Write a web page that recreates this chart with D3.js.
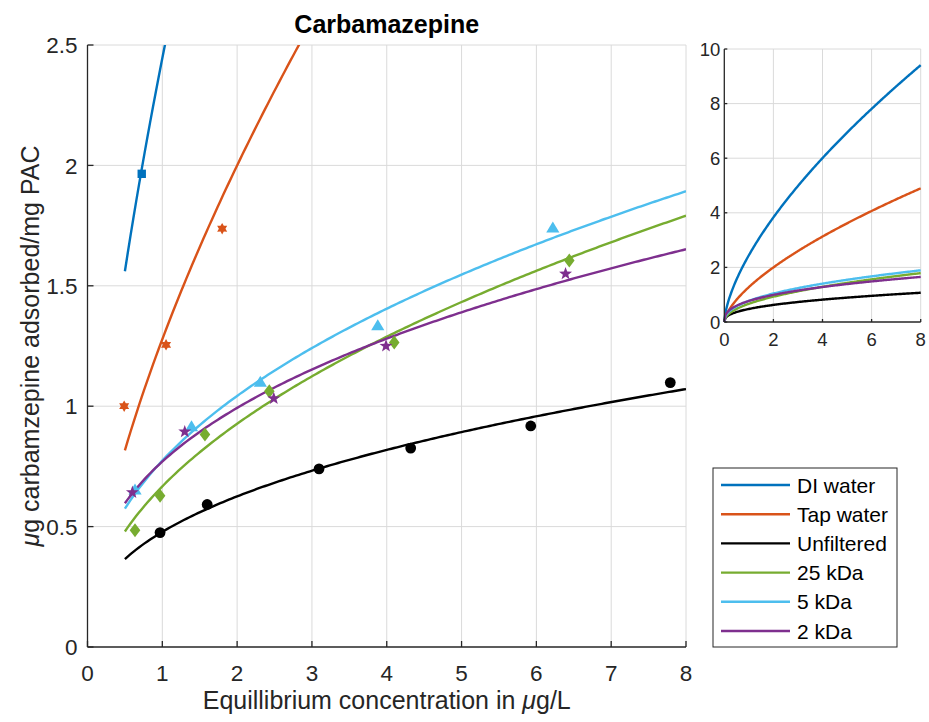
<!DOCTYPE html>
<html>
<head>
<meta charset="utf-8">
<script src="https://cdn.jsdelivr.net/npm/d3@7"></script>
<style>
  html, body { margin: 0; padding: 0; background: #fff; }
  svg { display: block; font-family: "Liberation Sans", Arial, sans-serif; }
</style>
</head>
<body>
<svg id="chart" width="929" height="722"></svg>
<script>
// Series names (legend order)
const seriesNames = ["DI water", "Tap water", "Unfiltered", "25 kDa", "5 kDa", "2 kDa"];

// Freundlich fit parameters q = K * C^n for each series
const fitK = [2.445, 1.278, 0.478, 0.667, 0.774, 0.770];
const fitN = [0.648, 0.646, 0.388, 0.475, 0.430, 0.367];

// Measured equilibrium concentrations (ug/L) and adsorbed amounts (ug/mg PAC)
const diC = [0.725];
const diQ = [1.965];
const tapC = [0.49, 1.05, 1.80];
const tapQ = [1.000, 1.255, 1.737];
const unfC = [0.97, 1.60, 3.095, 4.32, 5.925, 7.79];
const unfQ = [0.475, 0.592, 0.740, 0.826, 0.918, 1.098];
const k25C = [0.635, 0.97, 1.57, 2.43, 4.10, 6.44];
const k25Q = [0.485, 0.628, 0.882, 1.062, 1.265, 1.605];
const k5C = [0.635, 1.39, 2.31, 3.88, 6.22];
const k5Q = [0.652, 0.915, 1.100, 1.335, 1.740];
const k2C = [0.60, 1.30, 2.49, 3.99, 6.39];
const k2Q = [0.642, 0.894, 1.032, 1.250, 1.550];

// Axis ticks
const mainXTicks = [0, 1, 2, 3, 4, 5, 6, 7, 8];
const mainYTicks = [0, 0.5, 1, 1.5, 2, 2.5];
const insetXTicks = [0, 2, 4, 6, 8];
const insetYTicks = [0, 2, 4, 6, 8, 10];

// Fit curve ranges
const mainFitRange = [0.5, 8];
const insetFitRange = [0, 8];

const colors = ["#0072BD", "#D95319", "#000000", "#77AC30", "#4DBEEE", "#7E2F8E"];
const axisColor = "#262626";
const gridColor = "#dadada";

const pointSets = [
  [diC, diQ], [tapC, tapQ], [unfC, unfQ], [k25C, k25Q], [k5C, k5Q], [k2C, k2Q]
];

// Marker shapes
function starPath(points, rOuter, rInner) {
  let p = [];
  for (let i = 0; i < points * 2; i++) {
    const r = i % 2 === 0 ? rOuter : rInner;
    const a = -Math.PI / 2 + i * Math.PI / points;
    p.push([r * Math.cos(a), r * Math.sin(a)]);
  }
  return "M" + p.map(d => d[0].toFixed(2) + "," + d[1].toFixed(2)).join("L") + "Z";
}
const markerPaths = [
  "M-4.2,-4.2L4.2,-4.2L4.2,4.2L-4.2,4.2Z",          // square
  starPath(6, 5.8, 3.3),                              // hexagram
  d3.symbol(d3.symbolCircle, Math.PI * 5.4 * 5.4)(),  // circle
  "M0,-7L5.3,0L0,7L-5.3,0Z",                          // diamond
  "M0,-6.4L6.6,4.6L-6.6,4.6Z",                        // triangle
  starPath(5, 6.8, 2.8)                               // pentagram
];

const svg = d3.select("#chart");

function fitCurve(i, range) {
  const c0 = range[0], c1 = range[1];
  const steps = 200;
  return d3.range(steps + 1).map(j => {
    const c = c0 + (c1 - c0) * j / steps;
    return [c, fitK[i] * Math.pow(c, fitN[i])];
  });
}

// ---------- Main axes ----------
const M = { left: 87.5, right: 686, top: 45, bottom: 647 };
const x = d3.scaleLinear().domain([0, 8]).range([M.left, M.right]);
const y = d3.scaleLinear().domain([0, 2.5]).range([M.bottom, M.top]);

const main = svg.append("g");

// grid
main.append("g").selectAll("line").data(mainXTicks.slice(1)).join("line")
  .attr("x1", d => x(d)).attr("x2", d => x(d))
  .attr("y1", M.top).attr("y2", M.bottom)
  .attr("stroke", gridColor).attr("stroke-width", 1);
main.append("g").selectAll("line").data(mainYTicks.slice(1)).join("line")
  .attr("x1", M.left).attr("x2", M.right)
  .attr("y1", d => y(d)).attr("y2", d => y(d))
  .attr("stroke", gridColor).attr("stroke-width", 1);

svg.append("defs").append("clipPath").attr("id", "mainClip")
  .append("rect").attr("x", M.left).attr("y", M.top)
  .attr("width", M.right - M.left).attr("height", M.bottom - M.top);

const line = d3.line().x(d => x(d[0])).y(d => y(d[1]));
const plotG = main.append("g").attr("clip-path", "url(#mainClip)");
seriesNames.forEach((name, i) => {
  plotG.append("path")
    .attr("d", line(fitCurve(i, mainFitRange)))
    .attr("fill", "none").attr("stroke", colors[i]).attr("stroke-width", 2.4);
});
seriesNames.forEach((name, i) => {
  const [cs, qs] = pointSets[i];
  main.append("g").selectAll("path").data(cs.map((c, j) => [c, qs[j]])).join("path")
    .attr("d", markerPaths[i])
    .attr("transform", d => `translate(${x(d[0])},${y(d[1])})`)
    .attr("fill", colors[i]).attr("stroke", "none");
});

// axes lines
main.append("line").attr("x1", M.left).attr("x2", M.left).attr("y1", M.top).attr("y2", M.bottom)
  .attr("stroke", axisColor).attr("stroke-width", 1.3);
main.append("line").attr("x1", M.left).attr("x2", M.right).attr("y1", M.bottom).attr("y2", M.bottom)
  .attr("stroke", axisColor).attr("stroke-width", 1.3);
// ticks (inward)
main.append("g").selectAll("line").data(mainXTicks).join("line")
  .attr("x1", d => x(d)).attr("x2", d => x(d)).attr("y1", M.bottom).attr("y2", M.bottom - 6)
  .attr("stroke", axisColor).attr("stroke-width", 1.3);
main.append("g").selectAll("line").data(mainYTicks).join("line")
  .attr("x1", M.left).attr("x2", M.left + 6).attr("y1", d => y(d)).attr("y2", d => y(d))
  .attr("stroke", axisColor).attr("stroke-width", 1.3);
// tick labels
main.append("g").selectAll("text").data(mainXTicks).join("text")
  .attr("x", d => x(d)).attr("y", 681)
  .attr("text-anchor", "middle").attr("font-size", 22.5).attr("fill", axisColor)
  .text(d => d);
main.append("g").selectAll("text").data(mainYTicks).join("text")
  .attr("x", M.left - 10).attr("y", d => y(d))
  .attr("dy", "0.36em")
  .attr("text-anchor", "end").attr("font-size", 22.5).attr("fill", axisColor)
  .text(d => d);

// title
svg.append("text").attr("x", (M.left + M.right) / 2).attr("y", 33)
  .attr("text-anchor", "middle").attr("font-size", 25).attr("font-weight", "bold")
  .attr("fill", "#000").text("Carbamazepine");

// x label
const xl = svg.append("text").attr("x", (M.left + M.right) / 2).attr("y", 708.5)
  .attr("text-anchor", "middle").attr("font-size", 25).attr("fill", axisColor);
xl.append("tspan").text("Equillibrium concentration in ");
xl.append("tspan").attr("font-style", "italic").text("μ");
xl.append("tspan").text("g/L");

// y label
const yl = svg.append("text")
  .attr("transform", `translate(39,${(M.top + M.bottom) / 2}) rotate(-90)`)
  .attr("text-anchor", "middle").attr("font-size", 25).attr("fill", axisColor);
yl.append("tspan").attr("font-style", "italic").text("μ");
yl.append("tspan").text("g carbamzepine adsorbed/mg PAC");

// ---------- Inset axes ----------
const I = { left: 724.3, right: 920.7, top: 49, bottom: 322 };
const xi = d3.scaleLinear().domain([0, 8]).range([I.left, I.right]);
const yi = d3.scaleLinear().domain([0, 10]).range([I.bottom, I.top]);
const inset = svg.append("g");

inset.append("g").selectAll("line").data(insetXTicks.slice(1)).join("line")
  .attr("x1", d => xi(d)).attr("x2", d => xi(d)).attr("y1", I.top).attr("y2", I.bottom)
  .attr("stroke", gridColor).attr("stroke-width", 1);
inset.append("g").selectAll("line").data(insetYTicks.slice(1)).join("line")
  .attr("x1", I.left).attr("x2", I.right).attr("y1", d => yi(d)).attr("y2", d => yi(d))
  .attr("stroke", gridColor).attr("stroke-width", 1);

const lineI = d3.line().x(d => xi(d[0])).y(d => yi(d[1]));
seriesNames.forEach((name, i) => {
  inset.append("path")
    .attr("d", lineI(fitCurve(i, insetFitRange)))
    .attr("fill", "none").attr("stroke", colors[i]).attr("stroke-width", 2.4);
});

inset.append("line").attr("x1", I.left).attr("x2", I.left).attr("y1", I.top).attr("y2", I.bottom)
  .attr("stroke", axisColor).attr("stroke-width", 1.3);
inset.append("line").attr("x1", I.left).attr("x2", I.right).attr("y1", I.bottom).attr("y2", I.bottom)
  .attr("stroke", axisColor).attr("stroke-width", 1.3);
inset.append("g").selectAll("line").data(insetXTicks).join("line")
  .attr("x1", d => xi(d)).attr("x2", d => xi(d)).attr("y1", I.bottom).attr("y2", I.bottom - 3)
  .attr("stroke", axisColor).attr("stroke-width", 1.3);
inset.append("g").selectAll("line").data(insetYTicks).join("line")
  .attr("x1", I.left).attr("x2", I.left + 3).attr("y1", d => yi(d)).attr("y2", d => yi(d))
  .attr("stroke", axisColor).attr("stroke-width", 1.3);
inset.append("g").selectAll("text").data(insetXTicks).join("text")
  .attr("x", d => xi(d)).attr("y", 346)
  .attr("text-anchor", "middle").attr("font-size", 18.5).attr("fill", axisColor)
  .text(d => d);
inset.append("g").selectAll("text").data(insetYTicks).join("text")
  .attr("x", I.left - 4).attr("y", d => yi(d)).attr("dy", "0.36em")
  .attr("text-anchor", "end").attr("font-size", 18.5).attr("fill", axisColor)
  .text(d => d);

// ---------- Legend ----------
const L = { x: 713, y: 468, w: 184, h: 179 };
const legend = svg.append("g");
legend.append("rect").attr("x", L.x).attr("y", L.y).attr("width", L.w).attr("height", L.h)
  .attr("fill", "#fff").attr("stroke", axisColor).attr("stroke-width", 1);
seriesNames.forEach((name, i) => {
  const cy = L.y + 17 + i * 29.2;
  legend.append("line").attr("x1", L.x + 8).attr("x2", L.x + 77).attr("y1", cy).attr("y2", cy)
    .attr("stroke", colors[i]).attr("stroke-width", 2.4);
  legend.append("text").attr("x", L.x + 84).attr("y", cy).attr("dy", "0.36em")
    .attr("font-size", 21).attr("fill", "#000").text(name);
});
</script>
</body>
</html>
